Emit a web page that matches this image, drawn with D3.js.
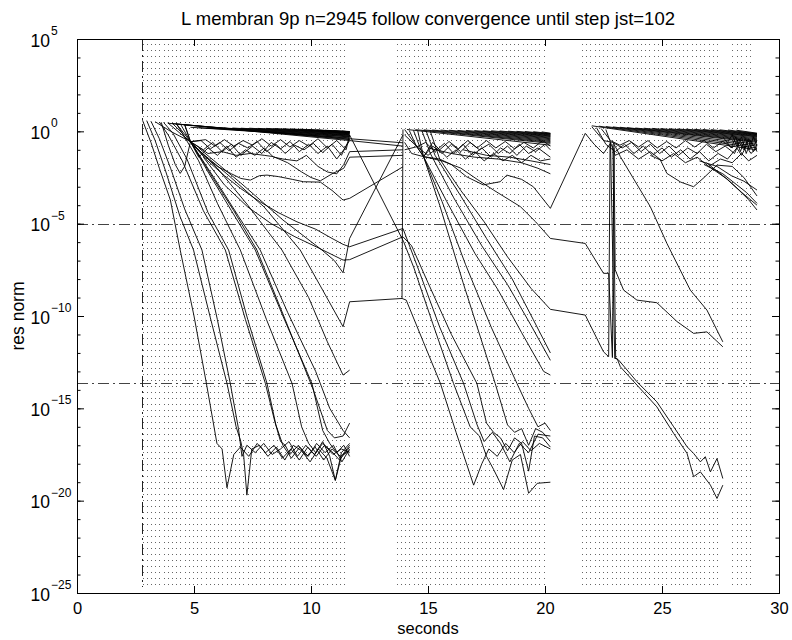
<!DOCTYPE html>
<html>
<head>
<meta charset="utf-8">
<script src="https://d3js.org/d3.v7.min.js"></script>
<style>
  body { margin: 0; background: #fff; }
  svg { display: block; font-family: "Liberation Sans", Arial, sans-serif; }
</style>
</head>
<body>
<svg width="792" height="640"></svg>
<script>
// every curve point is [seconds, log10(res norm)]

// time-step grids drawn as dotted verticals: [first step, last step, count]
const stepBlocks = [[2.80, 11.42, 49], [13.67, 19.94, 36], [21.58, 27.35, 33], [27.99, 28.77, 5]];
const startLine = 2.78;
const tolerances = [1e-5, 2.22e-14];

// block 1: fast converging solves (with round-off floor tails)
const block1Fast = [
  [[2.80,0.60],[3.16,-0.6],[3.52,-2.0],[3.99,-3.72],[4.41,-6.43],[5.0,-10.0],[5.53,-13.65],[5.98,-16.9],[6.2,-17.2],[6.41,-19.3],[6.7,-17.5],[6.98,-17.1],[7.34,-17.6],[7.7,-16.9],[8.06,-17.4],[8.42,-17.0],[8.78,-17.7],[9.14,-17.2],[9.5,-17.8],[9.86,-17.1],[10.22,-17.6],[10.58,-17.0],[10.94,-17.5],[11.3,-17.2],[11.65,-17.4]],
  [[2.98,0.58],[3.34,-0.5],[3.8,-2.2],[4.4,-4.6],[4.98,-6.43],[5.7,-10.1],[6.41,-13.65],[6.8,-16.0],[7.0,-16.8],[7.12,-17.5],[7.26,-19.7],[7.47,-17.2],[7.8,-17.0],[8.16,-17.6],[8.52,-17.1],[8.88,-17.8],[9.24,-17.0],[9.6,-17.3],[9.96,-17.9],[10.32,-17.2],[10.68,-17.7],[11.04,-18.9],[11.3,-17.6],[11.65,-17.0]],
  [[3.16,0.55],[3.52,-0.4],[4.0,-2.0],[4.6,-4.2],[5.34,-6.43],[6.0,-10.2],[6.55,-13.65],[6.9,-16.1],[7.05,-17.6],[7.26,-17.0],[7.62,-17.4],[7.98,-16.9],[8.34,-17.5],[8.7,-17.2],[9.06,-16.8],[9.42,-17.6],[9.78,-17.0],[10.14,-17.5],[10.5,-16.9],[10.86,-17.3],[11.22,-17.8],[11.65,-17.1]],
  [[3.52,0.5],[3.9,-0.2],[4.5,-1.6],[5.4,-4.3],[6.34,-6.43],[7.2,-10.2],[8.05,-13.65],[8.45,-15.7],[8.7,-16.8],[8.9,-17.0],[9.1,-17.5],[9.46,-17.0],[9.82,-17.6],[10.18,-17.1],[10.54,-17.8],[10.9,-17.2],[11.26,-17.6],[11.65,-17.3]],
  [[3.7,0.48],[4.1,-0.1],[4.7,-1.5],[5.6,-4.4],[6.48,-6.43],[7.3,-10.2],[8.12,-13.65],[8.5,-15.9],[8.8,-17.0],[9.16,-17.7],[9.52,-17.1],[9.88,-17.6],[10.24,-16.9],[10.6,-17.4],[10.96,-17.0],[11.32,-17.9],[11.65,-17.2]],
  [[4.06,0.45],[4.5,-0.1],[5.2,-1.6],[6.0,-3.9],[6.98,-6.43],[8.1,-10.2],[9.19,-13.65],[9.6,-16.0],[9.9,-16.9],[10.2,-17.4],[10.5,-16.8],[10.8,-17.6],[11.04,-18.9],[11.3,-17.4],[11.65,-16.9]],
  [[4.24,0.42],[4.85,-0.56],[5.6,-2.2],[6.6,-4.3],[7.62,-6.43],[8.8,-10.0],[10.04,-13.65],[10.5,-16.2],[10.8,-16.9],[11.1,-17.4],[11.4,-17.0],[11.65,-17.6]],
  [[4.42,0.4],[4.85,-0.56],[5.8,-2.5],[6.7,-4.3],[7.69,-6.43],[8.9,-10.2],[10.1,-14.0],[10.7,-16.2],[11.0,-16.6],[11.37,-16.5],[11.65,-15.8]],
  [[4.6,0.38],[4.85,-0.56],[5.9,-2.6],[6.9,-4.6],[7.83,-6.43],[9.0,-9.8],[10.2,-13.0],[10.8,-15.0],[11.37,-16.2],[11.65,-16.6]],
  [[4.85,-0.56],[6.0,-2.0],[7.3,-4.0],[8.76,-6.43],[9.9,-9.0],[10.7,-11.4],[11.37,-13.2],[11.65,-12.93]],
  [[5.0,-0.8],[6.4,-2.3],[8.0,-4.1],[9.54,-6.43],[10.5,-8.6],[11.37,-10.58],[11.65,-9.23],[13.89,-9.05],[13.93,0.1]],
  [[5.2,-0.9],[7.0,-2.8],[8.8,-4.8],[10.47,-6.43],[11.0,-7.0],[11.37,-7.66],[11.65,-5.8],[13.93,-0.2]]
];

// block 1: slowly converging solves
const block1Slow = [
  [[4.85,-0.56],[5.4,-1.3],[6.0,-1.9],[6.6,-2.3],[7.0,-2.55],[7.41,-2.64],[7.8,-2.4],[8.12,-2.37],[8.6,-2.45],[9.2,-2.6],[9.68,-2.73],[10.4,-2.75],[10.9,-3.2],[11.37,-3.72],[11.65,-3.63],[13.93,-1.92]],
  [[4.85,-0.56],[5.5,-1.5],[6.3,-2.4],[7.0,-3.1],[7.8,-3.8],[8.6,-4.4],[9.4,-4.9],[10.2,-5.3],[10.9,-5.8],[11.37,-6.12],[11.65,-6.25],[13.93,-5.26]],
  [[5.4,-1.4],[6.3,-2.9],[7.3,-4.1],[8.3,-5.0],[9.3,-5.7],[10.3,-6.3],[11.37,-6.97],[11.65,-6.95],[13.93,-5.71]]
];

// block 1: stagnating solves
const block1Zigzag = [
  [[3.34,0.52],[4.0,0.0],[4.85,-0.56],[5.3,-0.5],[5.7,-0.95],[6.1,-0.6],[6.5,-1.05],[6.9,-0.65],[7.3,-0.9],[7.7,-0.55],[8.1,-1.1],[8.5,-0.7],[8.9,-1.2],[9.3,-0.75],[9.7,-1.0],[10.1,-0.65],[10.5,-1.15],[10.9,-0.7],[11.3,-1.3],[11.65,-0.4],[13.93,-0.62]],
  [[3.88,0.46],[4.4,-0.1],[4.85,-0.56],[5.4,-1.0],[5.8,-0.6],[6.2,-1.1],[6.6,-0.7],[7.0,-1.3],[7.5,-0.8],[7.9,-1.2],[8.3,-0.6],[8.7,-0.95],[9.1,-0.55],[9.5,-1.1],[9.9,-0.7],[10.3,-1.2],[10.7,-0.8],[11.1,-1.5],[11.4,-1.0],[11.65,-0.5],[13.93,-0.8]],
  [[4.24,0.42],[4.6,-0.3],[4.85,-0.56],[5.2,-1.4],[5.6,-0.9],[6.0,-1.3],[6.4,-0.8],[6.8,-1.4],[7.2,-1.0],[7.6,-1.3],[8.0,-0.9],[8.4,-1.4],[8.8,-1.5],[9.4,-1.6],[9.8,-1.3],[10.3,-1.9],[10.7,-2.2],[11.1,-2.3],[11.4,-1.8],[11.65,-1.1],[13.93,-1.0]],
  [[4.6,0.36],[4.85,-0.56],[5.5,-0.45],[5.9,-0.8],[6.3,-0.45],[6.7,-0.8],[7.1,-0.5],[7.5,-0.75],[7.9,-0.4],[8.3,-0.8],[8.7,-0.45],[9.1,-0.85],[9.5,-0.5],[9.9,-0.8],[10.3,-0.4],[10.7,-0.9],[11.1,-0.5],[11.5,-1.0],[11.65,-0.2],[13.96,-5.98]],
  [[3.6,0.49],[3.9,-0.75],[4.2,-1.8],[4.41,-2.28],[4.6,-1.9],[4.85,-0.56],[5.6,-1.2],[6.2,-1.1],[6.8,-1.3],[7.4,-1.2],[8.0,-1.3],[8.4,-1.37],[9.0,-1.7],[9.6,-2.2],[10.0,-2.5],[10.4,-2.68],[10.9,-2.3],[11.4,-2.0],[11.65,-1.4],[13.93,-1.3]]
];

// block 2
const block2Fast = [
  [[13.89,-9.05],[14.07,-9.14],[14.8,-11.4],[15.53,-13.65],[16.2,-16.3],[16.95,-19.16],[17.3,-18.0],[17.6,-17.2],[17.96,-17.6],[18.32,-16.9],[18.68,-17.4],[19.04,-16.8],[19.4,-17.3],[19.76,-16.9],[20.23,-17.2]],
  [[13.96,-5.98],[14.4,-7.4],[15.2,-10.4],[16.09,-13.65],[16.8,-16.0],[17.2,-16.5],[17.5,-17.6],[17.8,-18.3],[18.23,-19.4],[18.6,-17.8],[18.95,-17.5],[19.3,-19.6],[19.67,-19.06],[20.23,-19.0]],
  [[13.93,-5.26],[14.6,-7.5],[15.5,-10.6],[16.52,-13.65],[17.1,-15.9],[17.4,-16.8],[17.75,-16.3],[18.1,-16.9],[18.5,-17.9],[18.9,-16.9],[19.3,-17.4],[19.7,-16.4],[20.23,-16.5]],
  [[13.93,-5.71],[14.3,-6.2],[15.0,-8.2],[16.0,-11.0],[17.09,-13.65],[17.5,-15.8],[17.8,-16.3],[18.1,-16.6],[18.4,-17.3],[18.7,-16.6],[19.0,-16.9],[19.3,-18.4],[19.55,-16.5],[19.9,-16.6],[20.23,-17.1]],
  [[14.2,0.05],[14.5,-0.8],[14.81,-1.37],[15.5,-4.0],[16.5,-8.2],[17.87,-13.65],[18.4,-15.9],[18.7,-16.3],[19.0,-16.1],[19.3,-17.0],[19.6,-16.1],[19.9,-16.3],[20.23,-16.8]],
  [[14.38,0.05],[14.81,-1.37],[15.6,-3.8],[16.6,-7.2],[17.7,-10.6],[18.8,-13.65],[19.3,-15.0],[19.7,-16.0],[20.0,-15.8],[20.23,-16.2]],
  [[14.56,0.04],[14.81,-1.37],[15.8,-3.8],[17.0,-6.6],[18.0,-8.6],[19.0,-10.9],[19.94,-13.0],[20.23,-13.2]],
  [[14.74,0.03],[15.1,-1.2],[16.1,-3.6],[17.3,-6.2],[18.4,-8.3],[19.4,-10.5],[20.23,-12.4]],
  [[14.92,0.02],[15.3,-1.3],[16.4,-3.5],[17.5,-5.8],[18.6,-8.0],[19.5,-10.2],[20.23,-12.0]]
];

const block2Slow = [
  [[15.1,0.0],[15.5,-1.5],[16.4,-3.2],[17.4,-4.9],[18.4,-6.8],[19.4,-8.5],[20.23,-9.64],[21.72,-9.95],[22.5,-11.94],[22.72,-12.2],[22.78,-0.6]],
  [[14.81,-1.37],[15.6,-1.6],[16.4,-1.99],[17.1,-2.6],[17.8,-3.18],[18.95,-4.08],[19.6,-4.9],[20.23,-5.8],[21.72,-6.07],[22.5,-7.69],[22.72,-7.69],[22.88,-12.25],[22.95,-0.7]],
  [[14.81,-1.37],[15.5,-1.5],[16.0,-1.8],[16.65,-2.46],[17.36,-2.9],[18.08,-2.73],[18.37,-2.37],[19.0,-2.6],[19.5,-3.0],[20.23,-4.17],[21.72,-0.11],[22.1,-0.7],[22.5,-1.2],[22.8,-0.65],[22.98,-12.3],[23.08,-12.3],[23.22,-12.75],[23.93,-13.74],[24.78,-14.92],[25.5,-16.36],[26.07,-17.44],[26.35,-18.7],[26.64,-18.44],[27.07,-19.16],[27.35,-19.88],[27.6,-19.16]],
  [[15.0,-0.9],[16.0,-1.2],[17.0,-1.4],[18.0,-1.5],[19.0,-1.7],[19.7,-2.0],[20.23,-2.3]],
  [[16.5,-1.0],[17.5,-1.3],[18.5,-1.4],[19.4,-1.6],[20.23,-1.8]]
];

const block2Zigzag = [
  [[14.0,0.1],[14.53,-0.83],[14.81,-1.37],[15.2,-0.8],[15.6,-1.2],[16.0,-0.7],[16.4,-1.1],[16.8,-0.6],[17.2,-1.0],[17.6,-0.7],[18.0,-1.2],[18.4,-0.8],[18.8,-1.3],[19.2,-0.8],[19.6,-1.1],[20.0,-0.7],[20.23,-1.0]],
  [[14.0,-0.2],[14.53,-0.83],[14.9,-0.6],[15.3,-1.1],[15.7,-0.65],[16.1,-1.2],[16.5,-0.7],[16.9,-1.3],[17.3,-0.9],[17.7,-1.4],[18.1,-0.9],[18.5,-1.2],[18.9,-0.7],[19.3,-1.2],[19.7,-0.9],[20.23,-1.4]],
  [[14.0,-0.6],[14.3,-1.2],[14.81,-1.37],[15.2,-0.6],[15.5,-1.0],[15.9,-0.55],[16.3,-0.95],[16.7,-0.5],[17.1,-0.9],[17.5,-0.5],[17.9,-0.9],[18.3,-0.55],[18.7,-0.95],[19.1,-0.6],[19.5,-0.9],[19.9,-0.5],[20.23,-0.8]],
  [[14.0,-1.0],[14.53,-0.83],[15.0,-1.3],[15.4,-0.9],[15.8,-1.4],[16.2,-1.0],[16.6,-1.5],[17.0,-1.1],[17.4,-1.6],[17.8,-1.2],[18.2,-1.6],[18.6,-1.3],[19.0,-1.7],[19.4,-1.3],[19.8,-1.6],[20.23,-1.5]]
];

// block 3
const block3Curves = [
  [[22.9,-0.7],[23.02,-12.3],[23.15,-12.39],[23.93,-13.56],[24.78,-14.65],[25.5,-16.0],[26.07,-17.08],[26.35,-17.44],[26.64,-17.9],[26.85,-17.62],[27.07,-18.44],[27.35,-17.72],[27.6,-18.8]],
  [[22.95,-0.9],[23.0,-7.5],[23.36,-8.6],[23.93,-9.14],[24.78,-9.28],[25.64,-10.3],[26.35,-10.94],[26.92,-10.86],[27.6,-11.67]],
  [[22.9,-0.6],[23.08,-1.0],[23.22,-1.37],[24.5,-4.08],[25.21,-6.07],[26.21,-8.6],[26.92,-9.68],[27.6,-11.4]],
  [[24.5,-1.3],[24.93,-1.55],[25.21,-2.28],[25.8,-2.75],[26.35,-3.0],[26.8,-2.5],[27.35,-1.83],[28.0,-1.9],[28.5,-2.5],[29.06,-3.5]],
  [[26.6,-1.6],[27.35,-1.9],[27.96,-2.4],[28.5,-2.7],[29.06,-3.18]],
  [[26.8,-1.8],[27.6,-2.3],[28.2,-2.9],[28.6,-3.3],[29.06,-3.9]],
  [[26.9,-1.7],[27.7,-2.5],[28.3,-3.2],[28.7,-3.7],[29.06,-4.26]],
  [[27.0,-1.9],[27.8,-2.6],[28.4,-3.3],[29.06,-4.0]]
];

const block3Zigzag = [
  [[22.0,0.25],[22.5,-0.5],[22.9,-0.6],[23.3,-0.9],[23.7,-0.6],[24.1,-1.1],[24.5,-0.7],[24.9,-1.2],[25.3,-0.8],[25.7,-1.3],[26.1,-0.9],[26.5,-1.2],[26.9,-0.7],[27.3,-1.1],[27.7,-0.8],[28.1,-1.2],[28.3,-0.6],[28.5,-1.0],[28.7,-0.5],[28.9,-1.1],[29.06,-0.7]],
  [[22.2,0.2],[22.6,-0.7],[23.0,-1.1],[23.4,-0.7],[23.8,-1.2],[24.2,-0.8],[24.6,-1.3],[25.0,-0.9],[25.4,-1.4],[25.8,-1.0],[26.2,-1.5],[26.6,-1.1],[27.0,-1.6],[27.4,-1.2],[27.8,-1.5],[28.2,-0.9],[28.4,-1.3],[28.6,-0.8],[28.8,-1.2],[29.06,-0.9]],
  [[22.4,0.15],[22.8,-0.5],[23.2,-0.75],[23.6,-0.5],[24.0,-0.85],[24.4,-0.5],[24.8,-0.9],[25.2,-0.55],[25.6,-0.9],[26.0,-0.5],[26.4,-0.85],[26.8,-0.5],[27.2,-0.9],[27.6,-0.55],[28.0,-0.9],[28.3,-0.4],[28.5,-0.9],[28.7,-0.4],[28.9,-0.8],[29.06,-0.5]],
  [[22.6,0.1],[23.0,-1.3],[23.5,-1.0],[24.0,-1.5],[24.5,-1.1],[25.0,-1.6],[25.5,-1.2],[26.0,-1.7],[26.5,-1.4],[27.0,-1.9],[27.5,-1.5],[28.0,-1.7],[28.4,-1.2],[28.7,-1.6],[29.06,-1.3]],
  [[27.6,-0.3],[27.96,-0.9],[28.15,-0.3],[28.35,-1.1],[28.55,-0.4],[28.75,-1.0],[28.9,-0.3],[29.06,-0.8]],
  [[27.8,-0.6],[28.0,-0.2],[28.2,-0.8],[28.4,-0.3],[28.6,-1.2],[28.8,-0.5],[29.06,-1.1]]
];

// near-flat solves: [start time, start log10, log10 at block end]
const blockEnds = [11.65, 20.23, 29.06];
const fanBlock1 = [[3.88,0.44,-0.5],[4.06,0.42,-0.45],[4.24,0.40,-0.42],[4.6,0.35,-0.38],[4.85,0.22,-0.35],[5.2,0.2,-0.3],[5.56,0.19,-0.28],[5.92,0.19,-0.25],[6.28,0.18,-0.22],[6.64,0.18,-0.2],[7.0,0.17,-0.18],[7.36,0.17,-0.15],[7.72,0.16,-0.13],[8.08,0.16,-0.11],[8.44,0.15,-0.1],[8.8,0.14,-0.08],[9.16,0.13,-0.06],[9.52,0.12,-0.05],[9.88,0.1,-0.04],[10.24,0.08,-0.03],[10.6,0.06,-0.02],[10.96,0.04,-0.02],[11.32,0.02,-0.01]];
const fanBlock2 = [[14.1,0.1,-0.75],[14.46,0.09,-0.65],[14.82,0.08,-0.6],[15.18,0.07,-0.55],[15.54,0.07,-0.5],[15.9,0.06,-0.45],[16.26,0.05,-0.4],[16.62,0.05,-0.36],[16.98,0.04,-0.32],[17.34,0.03,-0.28],[17.7,0.03,-0.25],[18.06,0.02,-0.22],[18.42,0.01,-0.19],[18.78,0.0,-0.16],[19.14,-0.01,-0.14],[19.5,-0.02,-0.12],[19.86,-0.03,-0.1]];
const fanBlock3 = [[22.0,0.3,-1.0],[22.3,0.28,-0.9],[22.6,0.26,-0.8],[22.9,0.24,-0.7],[23.2,0.22,-0.6],[23.5,0.2,-0.55],[23.86,0.18,-0.5],[24.22,0.17,-0.45],[24.58,0.16,-0.4],[24.94,0.15,-0.35],[25.3,0.14,-0.3],[25.66,0.13,-0.27],[26.02,0.12,-0.24],[26.38,0.11,-0.21],[26.74,0.1,-0.18],[27.1,0.09,-0.16],[27.46,0.08,-0.14],[27.82,0.07,-0.12],[28.18,0.06,-0.1]];

const xTicks = [0, 5, 10, 15, 20, 25, 30];
const yLabelExps = [-25, -20, -15, -10, -5, 0, 5];
const yMinorExps = d3.range(-25, 6);

const svg = d3.select("svg");
const x = d3.scaleLinear().domain([0, 30]).range([77, 779]);
const y = d3.scaleLog().domain([1e-25, 1e5]).range([593, 39]);
const ey = e => y(Math.pow(10, e));

// dotted step grid
const grid = svg.append("g");
stepBlocks.forEach(function (b) {
  const steps = d3.range(b[2]).map(i => b[0] + i * (b[1] - b[0]) / (b[2] - 1));
  grid.selectAll(null)
    .data(steps)
    .enter()
    .append("line")
    .attr("x1", d => Math.round(x(d)) + 0.5)
    .attr("x2", d => Math.round(x(d)) + 0.5)
    .attr("y1", 44)
    .attr("y2", 587)
    .attr("stroke", "#666")
    .attr("stroke-width", 1)
    .attr("stroke-dasharray", "1,5");
});

// tolerance lines and start marker
svg.selectAll(".tol")
  .data(tolerances)
  .enter()
  .append("line")
  .attr("class", "tol")
  .attr("x1", x(0))
  .attr("x2", x(30))
  .attr("y1", d => Math.round(y(d)) + 0.5)
  .attr("y2", d => Math.round(y(d)) + 0.5)
  .attr("stroke", "#444")
  .attr("stroke-dasharray", "11,4,2,4");

svg.append("line")
  .attr("x1", Math.round(x(startLine)) + 0.5)
  .attr("x2", Math.round(x(startLine)) + 0.5)
  .attr("y1", 40)
  .attr("y2", 587)
  .attr("stroke", "#222")
  .attr("stroke-dasharray", "11,4,2,4");

// curves
const line = d3.line().x(d => x(d[0])).y(d => ey(d[1]));
const fanCurves = [];
[fanBlock1, fanBlock2, fanBlock3].forEach(function (fan, i) {
  fan.forEach(f => fanCurves.push([[f[0], f[1]], [blockEnds[i], f[2]]]));
});
const curves = [].concat(fanCurves, block1Fast, block1Slow, block1Zigzag,
  block2Fast, block2Slow, block2Zigzag, block3Curves, block3Zigzag);

svg.append("g")
  .selectAll("path")
  .data(curves)
  .enter()
  .append("path")
  .attr("d", line)
  .attr("fill", "none")
  .attr("stroke", "#000")
  .attr("stroke-width", 0.9)
  .attr("stroke-linejoin", "round");

// axes, ticks pointing inward
const plotH = 593 - 39;
svg.append("g")
  .attr("transform", "translate(0,593)")
  .call(d3.axisBottom(x).tickValues(xTicks).tickSizeInner(-7).tickSizeOuter(0).tickPadding(9))
  .call(g => g.select(".domain").remove())
  .call(g => g.selectAll("text").attr("font-size", 16.5).attr("font-family", "Liberation Sans, Arial, sans-serif"));
svg.append("g")
  .attr("transform", "translate(0,39)")
  .call(d3.axisTop(x).tickValues(xTicks).tickSizeInner(-7).tickSizeOuter(0).tickFormat(""))
  .call(g => g.select(".domain").remove());

[[d3.axisLeft, 77], [d3.axisRight, 779]].forEach(function (a) {
  svg.append("g")
    .attr("transform", "translate(" + a[1] + ",0)")
    .call(a[0](y).tickValues(yMinorExps.map(e => Math.pow(10, e))).tickSizeInner(-3.5).tickSizeOuter(0).tickFormat(""))
    .call(g => g.select(".domain").remove());
  svg.append("g")
    .attr("transform", "translate(" + a[1] + ",0)")
    .call(a[0](y).tickValues(yLabelExps.map(e => Math.pow(10, e))).tickSizeInner(-7).tickSizeOuter(0).tickFormat(""))
    .call(g => g.select(".domain").remove());
});

svg.append("rect")
  .attr("x", 77.5)
  .attr("y", 39.5)
  .attr("width", 779 - 77)
  .attr("height", plotH)
  .attr("fill", "none")
  .attr("stroke", "#000");

// y tick labels 10^e
const yl = svg.append("g").selectAll("g").data(yLabelExps).enter().append("g");
yl.append("text")
  .attr("x", 50)
  .attr("y", d => ey(d) + 7.5)
  .attr("text-anchor", "end")
  .attr("font-size", 17.5)
  .text("10");
yl.append("text")
  .attr("x", 51)
  .attr("y", d => ey(d) - 4)
  .attr("font-size", 12)
  .text(d => (d < 0 ? "\u2212" + (-d) : d));

// labels
svg.append("text")
  .attr("x", (77 + 779) / 2)
  .attr("y", 25)
  .attr("text-anchor", "middle")
  .attr("font-size", 18.5)
  .text("L membran 9p n=2945 follow convergence until step jst=102");
svg.append("text")
  .attr("x", (77 + 779) / 2)
  .attr("y", 634)
  .attr("text-anchor", "middle")
  .attr("font-size", 16.5)
  .text("seconds");
svg.append("text")
  .attr("transform", "translate(24," + (39 + plotH / 2) + ") rotate(-90)")
  .attr("text-anchor", "middle")
  .attr("font-size", 17.5)
  .text("res norm");
</script>
</body>
</html>
